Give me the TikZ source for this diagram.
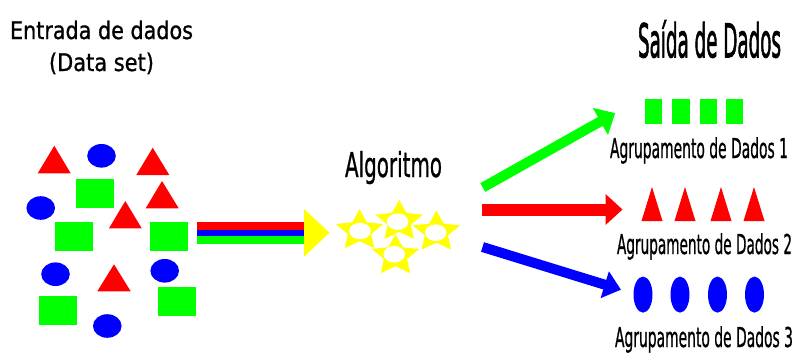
\documentclass[tikz,border=0pt]{standalone}
\usepackage{fontspec}
\usepackage{graphicx}
\setmainfont{DejaVu Sans}
\newfontfamily\fntA[FakeBold=1]{DejaVu Sans}
\newfontfamily\fntB[FakeBold=2.2]{DejaVu Sans}
\usetikzlibrary{arrows.meta,shapes.geometric}
\definecolor{cred}{RGB}{255,0,0}
\definecolor{cblue}{RGB}{0,0,255}
\definecolor{cgreen}{RGB}{0,255,0}
\definecolor{cyellow}{RGB}{255,255,0}
\newcommand{\sqtxt}[3]{\fontsize{#1}{#1}\selectfont\resizebox{#2pt}{\height}{#3}}
\tikzset{
  every node/.style={inner sep=0pt, outer sep=0pt},
  lbl/.style={anchor=base west, text=black, font=\fntA},
  redshape/.style={fill=cred},
  blueshape/.style={fill=cblue},
  greenshape/.style={fill=cgreen},
  hole/.style={ellipse, fill=white, minimum width=21.5pt, minimum height=16.5pt},
  fatarrow/.style={line width=#1, -{Triangle[width=30pt,length=17pt]}},
  ystar/.pic={
    \fill[cyellow] (90:21.6pt) -- (126:10.5pt) -- (162:21.6pt) -- (198:10.5pt)
      -- (234:21.6pt) -- (270:10.5pt) -- (306:21.6pt) -- (342:10.5pt)
      -- (18:21.6pt) -- (54:10.5pt) -- cycle;
  },
}
\begin{document}
\begin{tikzpicture}[x=1pt,y=-1pt]
\useasboundingbox (0,0) rectangle (801,354);

% titles
\node[lbl] (tin1) at (10,39) {\sqtxt{24.3}{183}{Entrada de dados}};
\node[lbl, anchor=base] (tin2) at (101.5,71) {\sqtxt{24.3}{105}{(Data set)}};
\node[lbl, font=\fntB] (tout) at (638,57.3) {\sqtxt{46.6}{143}{Saída de Dados}};
\node[lbl] (talg) at (345,177) {\sqtxt{34.3}{97}{Algoritmo}};
\node[lbl] (tg1) at (610,158) {\sqtxt{27.4}{178}{Agrupamento de Dados 1}};
\node[lbl] (tg2) at (617,254) {\sqtxt{27.4}{175}{Agrupamento de Dados 2}};
\node[lbl] (tg3) at (615,347) {\sqtxt{27.4}{178}{Agrupamento de Dados 3}};

% input data set: triangles
\fill[redshape] (37.7,173.3) -- (54.3,145.7) -- (70.7,173.3) -- cycle;
\fill[redshape] (136.3,175) -- (152.7,147.7) -- (169.3,175) -- cycle;
\fill[redshape] (145.7,208.3) -- (162,181) -- (178.7,208.3) -- cycle;
\fill[redshape] (109,228.3) -- (125.3,201) -- (141.7,228.3) -- cycle;
\fill[redshape] (97.3,291.3) -- (114,264.3) -- (130.7,291.3) -- cycle;
% ellipses
\fill[blueshape] (101.5,155.8) ellipse (14.3pt and 11.8pt);
\fill[blueshape] (40.7,208) ellipse (14.3pt and 11.8pt);
\fill[blueshape] (55.5,274.2) ellipse (14.3pt and 11.8pt);
\fill[blueshape] (164.7,270.8) ellipse (14.3pt and 11.8pt);
\fill[blueshape] (107.3,326) ellipse (14.3pt and 11.8pt);
% rectangles
\fill[greenshape] (75.7,179) rectangle (113.7,207.7);
\fill[greenshape] (55,222.3) rectangle (92.7,251);
\fill[greenshape] (150,222.3) rectangle (187.7,251);
\fill[greenshape] (39.3,296) rectangle (77.3,325);
\fill[greenshape] (158.3,287) rectangle (196.3,316);

% striped input arrow
\fill[cred] (197,222) rectangle (304,229.5);
\fill[cblue] (197,229.5) rectangle (304,236);
\fill[cgreen] (197,236) rectangle (304,244);
\fill[cyellow] (304,209) -- (329.5,232.8) -- (304,256.7) -- cycle;

% algorithm stars
\coordinate (s1) at (359.5,230.7);
\coordinate (s2) at (399.2,221.4);
\coordinate (s3) at (436.4,232.1);
\coordinate (s4) at (395.5,255.7);
\pic[xscale=1.16] at (s1) {ystar};
\pic[xscale=1.16] at (s3) {ystar};
\pic[xscale=1.16] at (s2) {ystar};
\pic[xscale=1.16] at (s4) {ystar};
\node[hole] (h1) at (360,231) {};
\node[hole] (h2) at (397.7,221.7) {};
\node[hole] (h3) at (435.7,232.7) {};
\node[hole] (h4) at (394.3,254.3) {};

% output arrows
\coordinate (g0) at (482.8,187.5);
\coordinate (g1) at (615.2,113.1);
\coordinate (r0) at (481.5,209.5);
\coordinate (r1) at (622.5,209.5);
\coordinate (b0) at (482.5,247);
\coordinate (b1) at (621,289.7);
\draw[cgreen, fatarrow=10pt] (g0) -- (g1);
\draw[cred, fatarrow=12pt] (r0) -- (r1);
\draw[cblue, fatarrow=10pt, -{Triangle[width=27pt,length=17pt]}] (b0) -- (b1);

% output group 1: squares
\fill[greenshape] (645,99) rectangle (662,124);
\fill[greenshape] (672,99) rectangle (690,124);
\fill[greenshape] (700,99) rectangle (717,124);
\fill[greenshape] (726,99) rectangle (743,124);
% output group 2: triangles
\foreach \cx in {652,685,721,754}
  \fill[redshape] (\cx-10.5,221) -- (\cx,187) -- (\cx+10.5,221) -- cycle;
% output group 3: ellipses
\foreach \cx in {643,680,717.5,754.5}
  \fill[blueshape] (\cx,294.6) ellipse (9.5pt and 18pt);
\end{tikzpicture}
\end{document}
